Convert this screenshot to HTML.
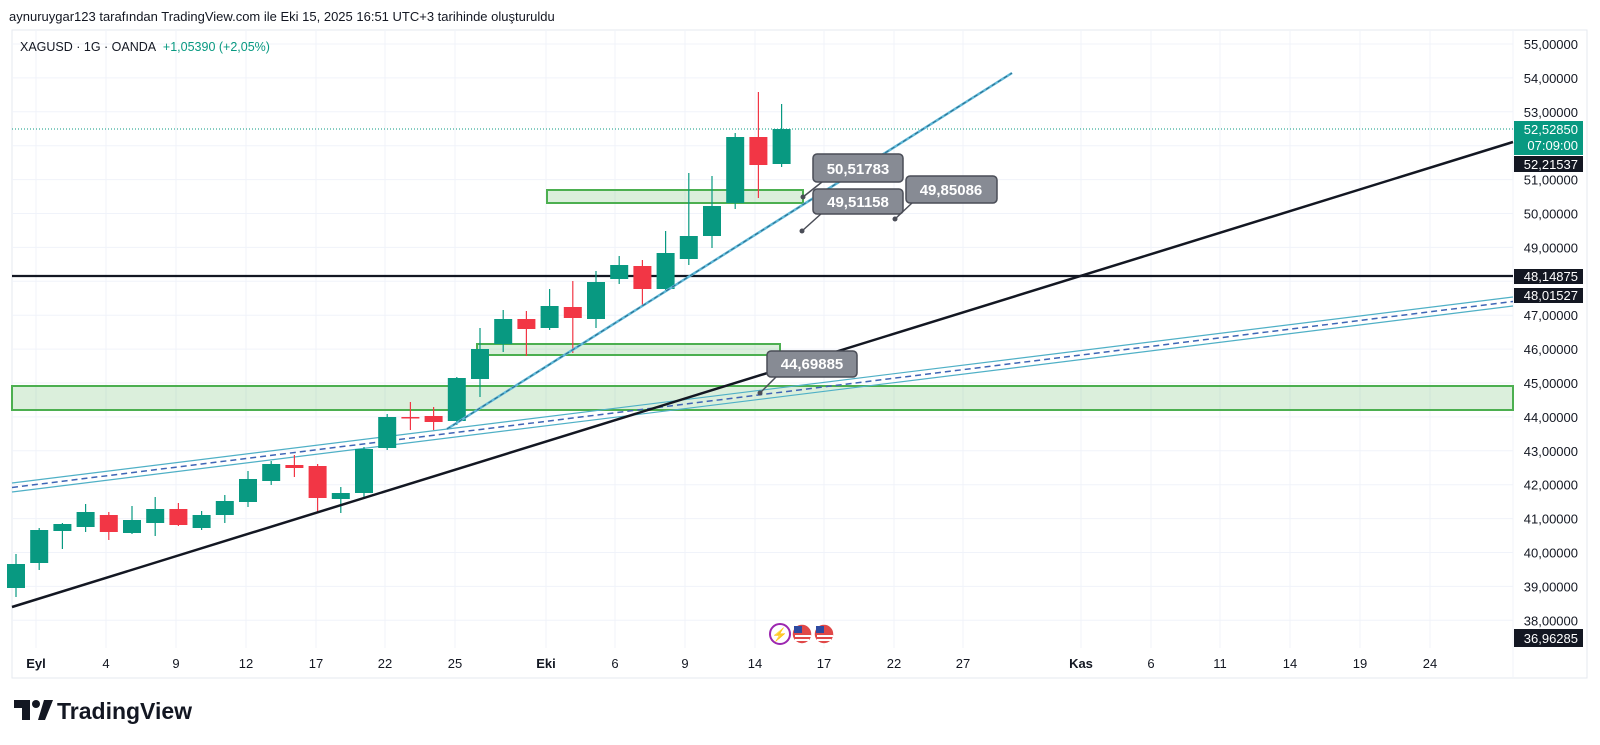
<!DOCTYPE html>
<html><head><meta charset="utf-8"><style>
html,body{margin:0;padding:0;background:#fff;}
svg{display:block;font-family:"Liberation Sans",sans-serif;}
</style></head><body>
<svg width="1600" height="745" viewBox="0 0 1600 745" xmlns="http://www.w3.org/2000/svg">
<rect width="1600" height="745" fill="#fff"/>
<text x="9" y="21" font-size="13" fill="#131722">aynuruygar123 tarafından TradingView.com ile Eki 15, 2025 16:51 UTC+3 tarihinde oluşturuldu</text>
<rect x="12" y="30" width="1575" height="648" fill="none" stroke="#e6e9ef" stroke-width="1"/>
<line x1="1513" y1="30" x2="1513" y2="678" stroke="#f0f3fa"/>
<g id="grid" stroke="#f0f3fa" stroke-width="1"></g>
<g id="ylab" font-size="13" fill="#131722" text-anchor="end"></g>
<g id="xlab" font-size="13" fill="#131722" text-anchor="middle"></g>
<text x="20" y="51" font-size="12.5" fill="#131722">XAGUSD · 1G · OANDA <tspan fill="#089981" dx="4">+1,05390 (+2,05%)</tspan></text>

<rect x="12" y="386" width="1501" height="24" fill="rgba(76,175,80,0.2)" stroke="#4caf50" stroke-width="2"/>
<rect x="547" y="190" width="256" height="13" fill="rgba(76,175,80,0.2)" stroke="#4caf50" stroke-width="2"/>
<rect x="477" y="344" width="303" height="11" fill="rgba(76,175,80,0.2)" stroke="#4caf50" stroke-width="2"/>

<line x1="12" y1="483" x2="1513" y2="297" stroke="#4fb0c6" stroke-width="1.2"/>
<line x1="12" y1="492" x2="1513" y2="306" stroke="#4fb0c6" stroke-width="1.2"/>
<line x1="12" y1="487.5" x2="1513" y2="301.5" stroke="#3f65b5" stroke-width="1.5" stroke-dasharray="6 4"/>

<line x1="12" y1="276" x2="1513" y2="276" stroke="#131722" stroke-width="2.2"/>
<line x1="12" y1="129" x2="1513" y2="129" stroke="#089981" stroke-width="1" stroke-dasharray="1 2"/>

<g id="candles"></g>

<line x1="12" y1="607" x2="1513" y2="142" stroke="#131722" stroke-width="2.5"/>
<line x1="447" y1="429" x2="1012" y2="73" stroke="#5db8d8" stroke-width="2.5"/>
<line x1="447" y1="429" x2="1012" y2="73" stroke="#2b6a8a" stroke-width="1" stroke-dasharray="4 3"/>

<g font-size="15" font-weight="bold" fill="#fff" text-anchor="middle">
<path d="M803 197 L822 182" stroke="#4a4d57" stroke-width="1.5"/><circle cx="803" cy="197" r="2.5" fill="#4a4d57"/>
<rect x="813" y="154" width="90" height="28" rx="4" fill="#878b94" stroke="#4a4d57" stroke-width="1.5"/><text x="858" y="174">50,51783</text>
<path d="M802 231 L822 213" stroke="#4a4d57" stroke-width="1.5"/><circle cx="802" cy="231" r="2.5" fill="#4a4d57"/>
<rect x="813" y="189" width="90" height="25" rx="4" fill="#878b94" stroke="#4a4d57" stroke-width="1.5"/><text x="858" y="207">49,51158</text>
<path d="M895 219 L912 203" stroke="#4a4d57" stroke-width="1.5"/><circle cx="895" cy="219" r="2.5" fill="#4a4d57"/>
<rect x="906" y="176" width="91" height="27" rx="4" fill="#878b94" stroke="#4a4d57" stroke-width="1.5"/><text x="951" y="195">49,85086</text>
<path d="M760 393 L776 377" stroke="#4a4d57" stroke-width="1.5"/><circle cx="760" cy="393" r="2.5" fill="#4a4d57"/>
<rect x="767" y="351" width="90" height="26" rx="4" fill="#878b94" stroke="#4a4d57" stroke-width="1.5"/><text x="812" y="369">44,69885</text>
</g>

<g font-size="13" text-anchor="end">
<rect x="1514" y="121" width="69" height="34" fill="#089981"/>
<text x="1578" y="134" fill="#fff">52,52850</text><text x="1578" y="150" fill="#fff">07:09:00</text>
<rect x="1514" y="156" width="69" height="16" fill="#131722"/><text x="1578" y="169" fill="#fff">52,21537</text>
<rect x="1514" y="269" width="69" height="15" fill="#131722"/><text x="1578" y="281" fill="#fff">48,14875</text>
<rect x="1514" y="288" width="69" height="15" fill="#131722"/><text x="1578" y="300" fill="#fff">48,01527</text>
<rect x="1514" y="629" width="69" height="18" fill="#131722"/><text x="1578" y="643" fill="#fff">36,96285</text>
</g>

<circle cx="780" cy="634" r="10" fill="#fff" stroke="#9c27b0" stroke-width="2"/>
<text x="780" y="639" font-size="13" fill="#9c27b0" text-anchor="middle">⚡</text>
<circle cx="802" cy="634" r="10" fill="#e04848" stroke="#fff" stroke-width="1.5"/><rect x="794" y="626" width="8" height="7" fill="#2e4aa0"/>
<rect x="795" y="635" width="16" height="2" fill="#fff"/><rect x="795" y="639" width="14" height="2" fill="#fff"/>
<circle cx="824" cy="634" r="10" fill="#e04848" stroke="#fff" stroke-width="1.5"/><rect x="816" y="626" width="8" height="7" fill="#2e4aa0"/>
<rect x="817" y="635" width="16" height="2" fill="#fff"/><rect x="817" y="639" width="14" height="2" fill="#fff"/>

<g fill="#131722">
<path d="M14 700 H30 V720 H22 V708 H14 Z"/><circle cx="36" cy="704" r="4"/><path d="M38 720 L44 700 H53 L45 720 Z"/>
</g>
<text x="57" y="719" font-size="23" font-weight="bold" fill="#131722">TradingView</text>

<script>
var ns="http://www.w3.org/2000/svg";
function el(p,t,a,txt){var e=document.createElementNS(ns,t);for(var k in a)e.setAttribute(k,a[k]);if(txt)e.textContent=txt;p.appendChild(e);return e;}
var g=document.getElementById('grid'),yl=document.getElementById('ylab'),xl=document.getElementById('xlab');
for(var v=38;v<=55;v++){var y=44+(55-v)*33.9;el(g,'line',{x1:12,y1:y,x2:1513,y2:y});
 if(v!==52&&v!==48) el(yl,'text',{x:1578,y:y+5},v+',00000');}
var xs=[[36,'Eyl',1],[106,'4'],[176,'9'],[246,'12'],[316,'17'],[385,'22'],[455,'25'],[546,'Eki',1],[615,'6'],[685,'9'],[755,'14'],[824,'17'],[894,'22'],[963,'27'],[1081,'Kas',1],[1151,'6'],[1220,'11'],[1290,'14'],[1360,'19'],[1430,'24']];
xs.forEach(function(a){el(g,'line',{x1:a[0],y1:30,x2:a[0],y2:648});var t=el(xl,'text',{x:a[0],y:668},a[1]);if(a[2])t.setAttribute('font-weight','bold');});
var C=[[564,588,554,597,1],[530,563,528,570,1],[524,531,523,549,1],[512,527,504,532,1],[515,532,512,540,0],[520,533,506,534,1],[509,523,497,536,1],[509,525,503,526,0],[515,528,511,530,1],[501,515,495,523,1],[479,502,471,507,1],[464,481,461,485,1],[465,468,455,477,0],[466,498,464,512,0],[493,499,487,513,1],[449,493,447,497,1],[417,448,414,450,1],[417,418,402,430,0],[416,422,407,430,0],[378,421,377,425,1],[349,379,328,397,1],[319,344,310,352,1],[319,329,311,356,0],[306,328,289,330,1],[307,318,281,353,0],[282,319,271,328,1],[265,279,256,284,1],[266,289,260,305,0],[253,289,231,290,1],[236,259,173,265,1],[206,236,176,248,1],[137,203,133,209,1],[137,165,92,198,0],[129,164,104,167,1]];
var cg=document.getElementById('candles');
C.forEach(function(c,i){var x=16+23.2*i,col=c[4]?'#089981':'#f23645';
 el(cg,'line',{x1:x,y1:c[2],x2:x,y2:c[3],stroke:col,'stroke-width':1.2});
 el(cg,'rect',{x:x-9,y:c[0],width:18,height:Math.max(1.5,c[1]-c[0]),fill:col});});
</script>
</svg>
</body></html>
